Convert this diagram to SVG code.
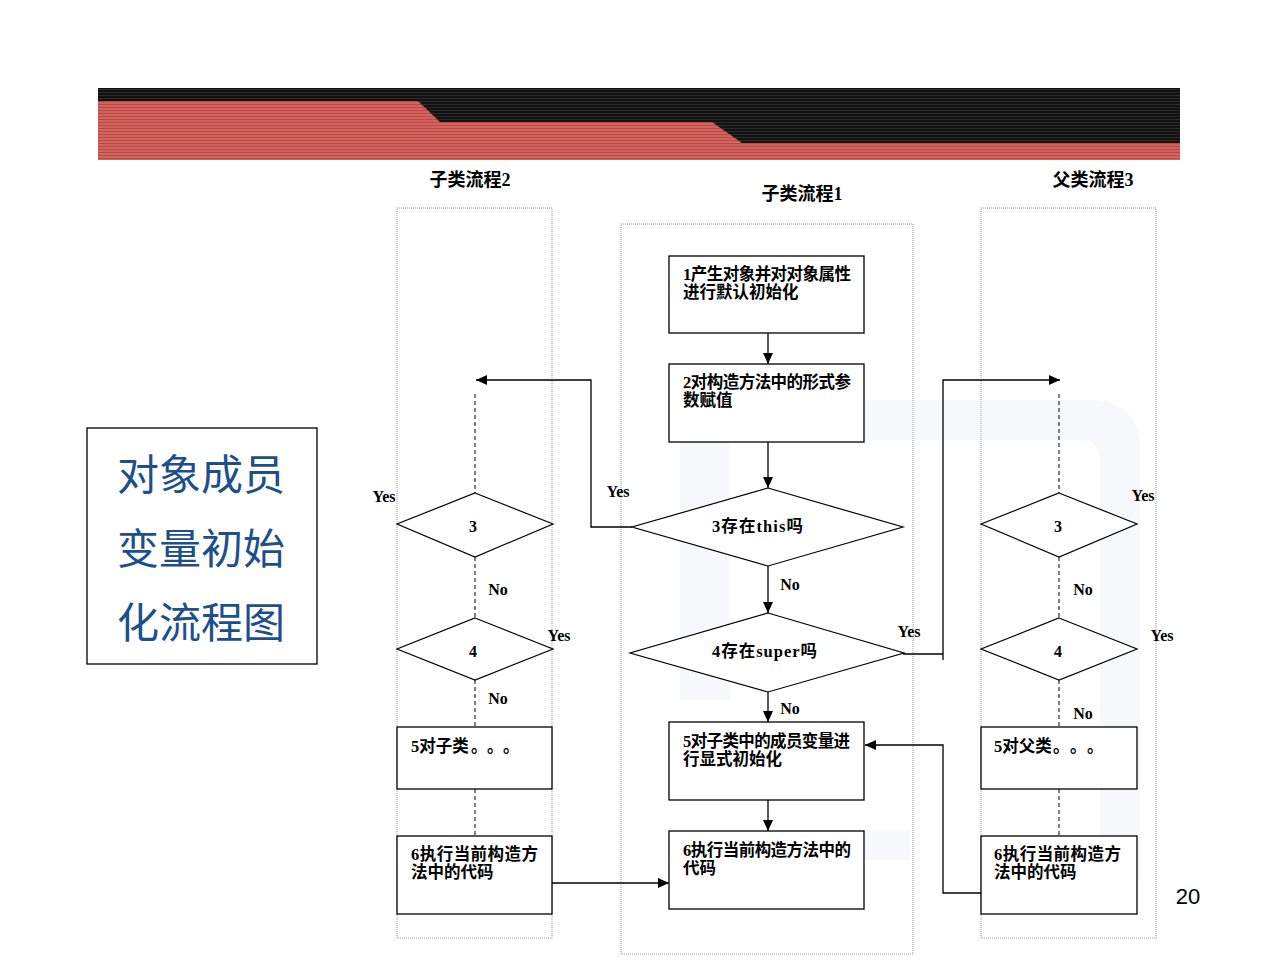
<svg xmlns="http://www.w3.org/2000/svg" width="1280" height="960" viewBox="0 0 1280 960">
<defs>
<pattern id="redStripe" width="4" height="3" patternUnits="userSpaceOnUse">
<rect width="4" height="3" fill="#d4625e"/>
<rect y="2" width="4" height="1" fill="#b84a48"/>
</pattern>
<pattern id="darkStripe" width="4" height="3" patternUnits="userSpaceOnUse">
<rect width="4" height="3" fill="#121212"/>
<rect y="2" width="4" height="1" fill="#2c2c2c"/>
</pattern>
<marker id="arr" viewBox="0 0 11 10" refX="11" refY="5" markerWidth="11" markerHeight="10" markerUnits="userSpaceOnUse" orient="auto">
<path d="M0,0 L11,5 L0,10 Z" fill="#000"/>
</marker>
<style>
.col{fill:none;stroke:#9a9a9a;stroke-width:1;stroke-dasharray:1 1}
.box{fill:#fff;stroke:#000;stroke-width:1.3}
.dia{fill:#fff;stroke:#000;stroke-width:1.2}
.ln{fill:none;stroke:#000;stroke-width:1.3}
.arw{fill:none;stroke:#000;stroke-width:1.3;marker-end:url(#arr)}
.dash{fill:none;stroke:#000;stroke-width:1;stroke-dasharray:4 3}
.t{font-family:"Liberation Serif","Noto Sans CJK SC",serif;font-weight:bold;font-size:16.5px;fill:#000}
.cjk{font-family:"Noto Sans CJK SC",sans-serif}
.lab{font-family:"Liberation Serif","Noto Sans CJK SC",serif;font-weight:bold;font-size:16px;fill:#000;text-anchor:middle}
.ttl{font-family:"Liberation Serif","Noto Sans CJK SC",serif;font-weight:bold;font-size:18px;fill:#000;text-anchor:middle}
.big{font-family:"Noto Sans CJK SC",sans-serif;font-size:42px;fill:#1c4f8c;text-anchor:middle}
</style>
</defs>
<rect width="1280" height="960" fill="#fff"/>
<!-- faint watermark -->
<g id="watermark" fill="#f6f8fb">
<rect x="680" y="440" width="50" height="260"/>
<path d="M860,400 L1090,400 Q1140,400 1140,450 L1140,880 L1100,880 L1100,460 Q1100,440 1080,440 L860,440 Z"/>
<rect x="760" y="830" width="150" height="30"/>
</g>
<!-- header band -->
<g id="header">
<rect x="98" y="88" width="1082" height="72" fill="url(#redStripe)"/>
<polygon points="98,88 1180,88 1180,143 742,143 712,122 440,122 418,101 98,101" fill="url(#darkStripe)"/>
</g>
<!-- swimlanes -->
<g id="lanes">
<rect class="col" x="397" y="208" width="155" height="730"/>
<rect class="col" x="621" y="224" width="292" height="730"/>
<rect class="col" x="981" y="208" width="175" height="730"/>
<text class="ttl" x="470" y="186">子类流程2</text>
<text class="ttl" x="802" y="200">子类流程1</text>
<text class="ttl" x="1093" y="186">父类流程3</text>
</g>
<!-- title box -->
<g id="title">
<rect x="87" y="428" width="230" height="236" fill="#fff" stroke="#000" stroke-width="1.3"/>
<text class="big" x="201" y="490">对象成员</text>
<text class="big" x="201" y="564">变量初始</text>
<text class="big" x="201" y="638">化流程图</text>
</g>
<!-- connectors -->
<g id="connectors">
<line class="arw" x1="768" y1="333" x2="768" y2="364"/>
<line class="arw" x1="768" y1="442" x2="768" y2="488"/>
<line class="arw" x1="768" y1="566" x2="768" y2="613"/>
<line class="arw" x1="768" y1="692" x2="768" y2="722"/>
<line class="arw" x1="768" y1="800" x2="768" y2="831"/>
<polyline class="arw" points="632,527 591,527 591,380 476,380"/>
<polyline class="ln" points="903,654 943,654"/>
<polyline class="arw" points="943,660 943,380 1060,380"/>
<polyline class="arw" points="552,883 669,883"/>
<polyline class="arw" points="981,893 943,893 943,745 865,745"/>
<line class="dash" x1="475" y1="394" x2="475" y2="493"/>
<line class="dash" x1="475" y1="557" x2="475" y2="618"/>
<line class="dash" x1="475" y1="680" x2="475" y2="727"/>
<line class="dash" x1="475" y1="789" x2="475" y2="836"/>
<line class="dash" x1="1059" y1="394" x2="1059" y2="493"/>
<line class="dash" x1="1059" y1="557" x2="1059" y2="618"/>
<line class="dash" x1="1059" y1="680" x2="1059" y2="727"/>
<line class="dash" x1="1059" y1="789" x2="1059" y2="836"/>
<text class="lab" x="384" y="502">Yes</text>
<text class="lab" x="618" y="497">Yes</text>
<text class="lab" x="498" y="595">No</text>
<text class="lab" x="559" y="641">Yes</text>
<text class="lab" x="498" y="704">No</text>
<text class="lab" x="790" y="590">No</text>
<text class="lab" x="790" y="714">No</text>
<text class="lab" x="909" y="637">Yes</text>
<text class="lab" x="1143" y="501">Yes</text>
<text class="lab" x="1083" y="595">No</text>
<text class="lab" x="1162" y="641">Yes</text>
<text class="lab" x="1083" y="719">No</text>
</g>
<!-- middle lane nodes -->
<g id="n1"><rect class="box" x="669" y="256" width="195" height="77"/>
<text class="t" x="683" y="280" textLength="168" lengthAdjust="spacing">1产生对象并对对象属性</text><text class="t" x="683" y="298">进行默认初始化</text></g>
<g id="n2"><rect class="box" x="669" y="364" width="195" height="78"/>
<text class="t" x="683" y="388" textLength="168" lengthAdjust="spacing">2对构造方法中的形式参</text><text class="t" x="683" y="406">数赋值</text></g>
<g id="d3"><polygon class="dia" points="768,488 903,527 768,566 632,527"/>
<text class="t" x="712" y="532" textLength="91" lengthAdjust="spacing">3存在this吗</text></g>
<g id="d4"><polygon class="dia" points="768,613 904,653 768,692 630,653"/>
<text class="t" x="712" y="657" textLength="105" lengthAdjust="spacing">4存在super吗</text></g>
<g id="n5"><rect class="box" x="669" y="722" width="195" height="78"/>
<text class="t" x="683" y="747" textLength="167" lengthAdjust="spacing">5对子类中的成员变量进</text><text class="t" x="683" y="765">行显式初始化</text></g>
<g id="n6"><rect class="box" x="669" y="831" width="195" height="78"/>
<text class="t" x="683" y="856" textLength="168" lengthAdjust="spacing">6执行当前构造方法中的</text><text class="t" x="683" y="874">代码</text></g>
<!-- left lane nodes -->
<g id="l3"><polygon class="dia" points="475,493 553,524 475,557 397,524"/>
<text class="lab" x="473" y="532">3</text></g>
<g id="l4"><polygon class="dia" points="475,618 553,649 475,680 397,649"/>
<text class="lab" x="473" y="657">4</text></g>
<g id="l5"><rect class="box" x="397" y="727" width="155" height="62"/>
<text class="t" x="411" y="752">5对子类<tspan class="cjk" x="471">。</tspan><tspan class="cjk" x="487">。</tspan><tspan class="cjk" x="503">。</tspan></text></g>
<g id="l6"><rect class="box" x="397" y="836" width="155" height="78"/>
<text class="t" x="411" y="860" textLength="127" lengthAdjust="spacing">6执行当前构造方</text><text class="t" x="411" y="878">法中的代码</text></g>
<!-- right lane nodes -->
<g id="r3"><polygon class="dia" points="1059,493 1137,524 1059,557 981,524"/>
<text class="lab" x="1058" y="532">3</text></g>
<g id="r4"><polygon class="dia" points="1059,618 1137,649 1059,680 981,649"/>
<text class="lab" x="1058" y="657">4</text></g>
<g id="r5"><rect class="box" x="981" y="727" width="156" height="62"/>
<text class="t" x="994" y="752">5对父类<tspan class="cjk" x="1053">。</tspan><tspan class="cjk" x="1070">。</tspan><tspan class="cjk" x="1087">。</tspan></text></g>
<g id="r6"><rect class="box" x="981" y="836" width="156" height="78"/>
<text class="t" x="994" y="860" textLength="127" lengthAdjust="spacing">6执行当前构造方</text><text class="t" x="994" y="878">法中的代码</text></g>
<text x="1188" y="904" font-family="Liberation Sans, Arial, sans-serif" font-size="22" text-anchor="middle" fill="#000">20</text>
</svg>
